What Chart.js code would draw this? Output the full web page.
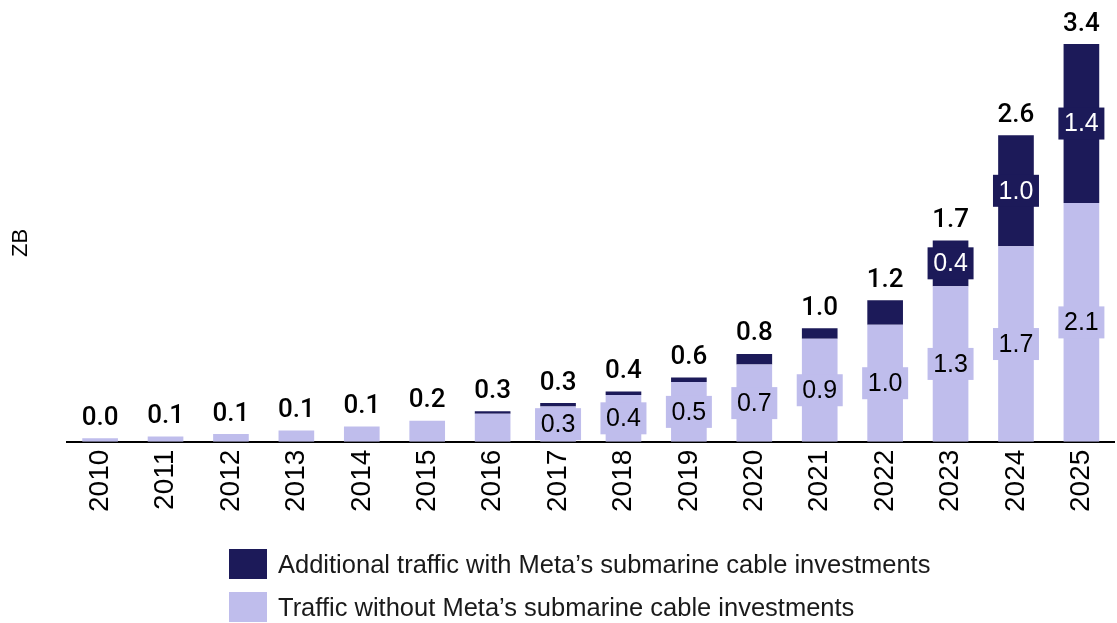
<!DOCTYPE html>
<html>
<head>
<meta charset="utf-8">
<script src="https://cdn.jsdelivr.net/npm/chart.js@4"></script>
<style>
  body { margin: 0; background: #fff; overflow: hidden; font-family: "Liberation Sans", Arial, sans-serif; }
  #wrap { position: relative; width: 1123px; height: 623px; }
  #legend { position: absolute; left: 229px; top: 549px; }
  .item { display: flex; align-items: center; height: 30px; margin-bottom: 13px; font-size: 25.5px; color: #1a1a1a; }
  .swatch { width: 38px; height: 30px; margin-right: 11px; }
</style>
</head>
<body>
<div id="wrap">
  <canvas id="chart1" width="1123" height="623"></canvas>
  <div id="legend"></div>
</div>
<script>
  const years = ['2010', '2011', '2012', '2013', '2014', '2015', '2016', '2017',
    '2018', '2019', '2020', '2021', '2022', '2023', '2024', '2025'];
  const withoutMeta = [0.03, 0.045, 0.065, 0.095, 0.13, 0.18, 0.24, 0.30,
    0.40, 0.51, 0.66, 0.88, 1.00, 1.33, 1.67, 2.04];
  const additional = [0, 0, 0, 0, 0, 0, 0.02, 0.03,
    0.03, 0.04, 0.09, 0.09, 0.21, 0.39, 0.95, 1.36];
  // labels as printed on the chart
  const totalLabels = ['0.0', '0.1', '0.1', '0.1', '0.1', '0.2', '0.3', '0.3',
    '0.4', '0.6', '0.8', '1.0', '1.2', '1.7', '2.6', '3.4'];
  const withoutLabels = ['', '', '', '', '', '', '', '0.3',
    '0.4', '0.5', '0.7', '0.9', '1.0', '1.3', '1.7', '2.1'];
  const additionalLabels = ['', '', '', '', '', '', '', '',
    '', '', '', '', '', '0.4', '1.0', '1.4'];

  const dark = '#1c1a59';
  const light = '#bfbdec';

  const valueLabels = {
    id: 'valueLabels',
    afterDatasetsDraw(chart) {
      const c = chart.ctx;
      c.save();
      c.textAlign = 'center';
      c.textBaseline = 'middle';
      const inner = [[withoutLabels, light, '#000'], [additionalLabels, dark, '#fff']];
      inner.forEach(([labels, bg, fg], i) => {
        chart.getDatasetMeta(i).data.forEach((bar, j) => {
          if (!labels[j]) return;
          const y = (bar.y + bar.base) / 2;
          c.fillStyle = bg;
          c.fillRect(bar.x - 23, y - 16, 46, 32);
          c.fillStyle = fg;
          c.font = '25px "Liberation Sans"';
          c.fillText(labels[j], bar.x, y + 1);
        });
      });
      const lo = chart.getDatasetMeta(0).data;
      const hi = chart.getDatasetMeta(1).data;
      c.fillStyle = '#000';
      c.font = '500 26px Roboto';
      totalLabels.forEach((t, j) => {
        const top = Math.min(lo[j].y, hi[j].y);
        c.fillText(t, lo[j].x, top - 20);
      });
      c.restore();
    }
  };

  const ctx = document.getElementById('chart1').getContext('2d');
  const chart = new Chart(ctx, {
    type: 'bar',
    data: {
      labels: years,
      datasets: [{
        label: 'Traffic without Meta’s submarine cable investments',
        backgroundColor: light,
        data: withoutMeta,
        borderWidth: 0
      }, {
        label: 'Additional traffic with Meta’s submarine cable investments',
        backgroundColor: dark,
        data: additional,
        borderWidth: 0
      }]
    },
    options: {
      responsive: false,
      animation: false,
      layout: { padding: { top: 44, left: 8, right: 0, bottom: 103 } },
      datasets: { bar: { categoryPercentage: 1, barPercentage: 0.545 } },
      plugins: {
        legend: { display: false },
        tooltip: { enabled: false }
      },
      scales: {
        x: {
          stacked: true,
          grid: { display: false, drawTicks: false },
          border: { display: true, color: '#000', width: 2 },
          ticks: {
            color: '#000',
            font: { family: 'Liberation Sans', size: 28 },
            minRotation: 90,
            maxRotation: 90,
            padding: 8
          }
        },
        y: {
          stacked: true,
          min: 0,
          max: 3.4,
          grid: { display: false, drawTicks: false },
          border: { display: false },
          ticks: { display: false },
          title: {
            display: true,
            text: 'ZB',
            color: '#000',
            font: { family: 'Liberation Sans', size: 22 },
            padding: { top: 0, bottom: 33 }
          }
        }
      }
    },
    plugins: [valueLabels]
  });

  const legend = document.getElementById('legend');
  [1, 0].forEach(i => {
    const ds = chart.data.datasets[i];
    const item = document.createElement('div');
    item.className = 'item';
    item.innerHTML = '<span class="swatch" style="background:' + ds.backgroundColor + '"></span><span>' + ds.label + '</span>';
    legend.appendChild(item);
  });
</script>
</body>
</html>
